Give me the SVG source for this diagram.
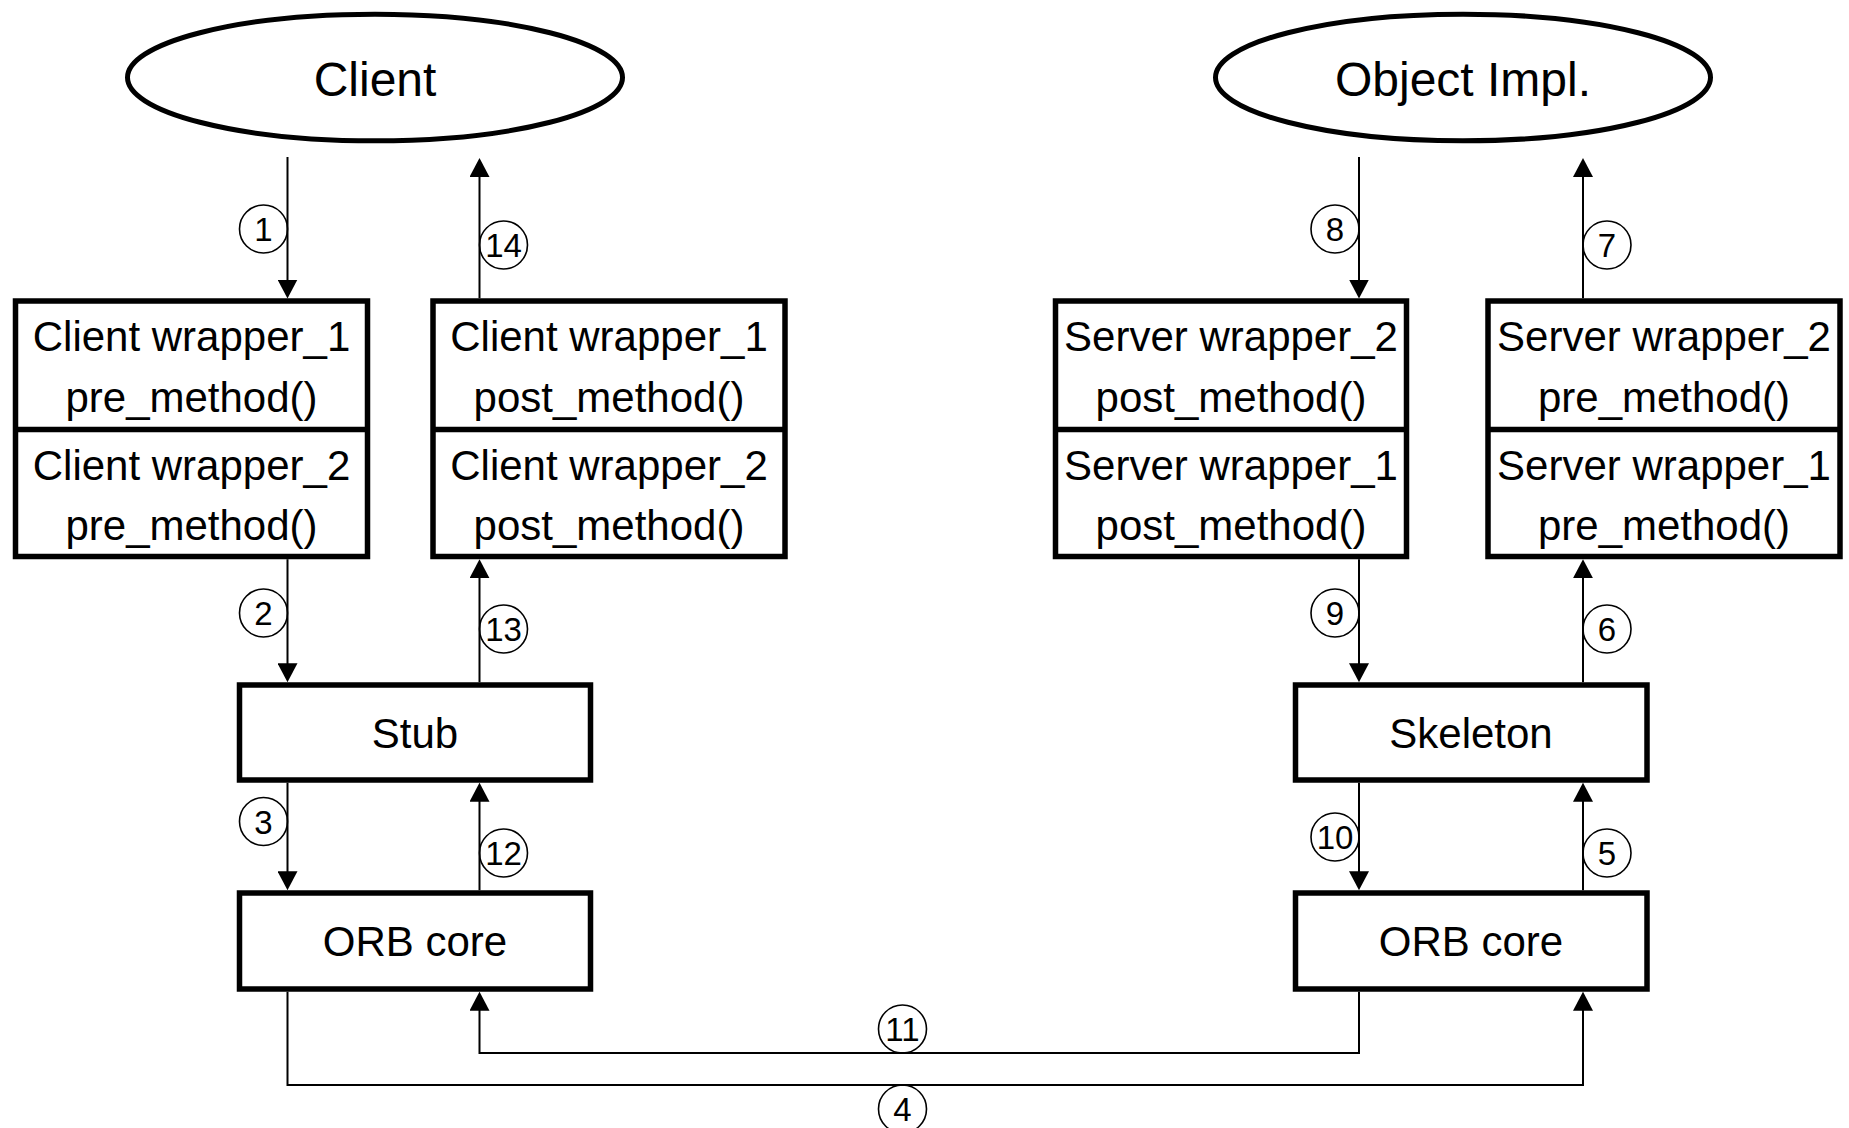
<svg xmlns="http://www.w3.org/2000/svg" width="1849" height="1128" viewBox="0 0 1849 1128">
  <style>
    .node { fill: #ffffff; stroke: #000000; stroke-width: 5.5; }
    .oval { fill: #ffffff; stroke: #000000; stroke-width: 5; }
    .div { stroke: #000000; stroke-width: 5.5; }
    .lbl { font-family: "Liberation Sans", Arial, Helvetica, sans-serif; font-size: 42px; text-anchor: middle; fill: #000000; }
    .big { font-family: "Liberation Sans", Arial, Helvetica, sans-serif; font-size: 48px; text-anchor: middle; fill: #000000; }
    .wire { fill: none; stroke: #000000; stroke-width: 2; }
    .tag circle { fill: none; stroke: #000000; stroke-width: 1.6; }
    .tag text { font-family: "Liberation Sans", Arial, Helvetica, sans-serif; font-size: 33px; text-anchor: middle; fill: #000000; }
  </style>
  <defs>
    <marker id="head" viewBox="0 0 19 20" refX="9" refY="10" markerWidth="19" markerHeight="20" markerUnits="userSpaceOnUse" orient="auto">
      <path d="M0,0 L19,10 L0,20 Z" fill="#000000"/>
    </marker>
  </defs>

  <rect width="1849" height="1128" fill="#ffffff"/>

  <!-- top-level actors -->
  <g id="client">
    <ellipse class="oval" cx="375" cy="77.5" rx="247.5" ry="63.3"/>
    <text class="big" x="375" y="96">Client</text>
  </g>
  <g id="object-impl">
    <ellipse class="oval" cx="1463" cy="77.5" rx="247.5" ry="63.3"/>
    <text class="big" x="1463" y="96">Object Impl.</text>
  </g>

  <!-- client-side wrapper stacks -->
  <g id="client-pre">
    <rect class="node" x="15.5" y="301" width="352" height="255.5"/>
    <line class="div" x1="15.5" y1="429.5" x2="367.5" y2="429.5"/>
    <text class="lbl" x="191.5" y="351">Client wrapper_1</text>
    <text class="lbl" x="191.5" y="412">pre_method()</text>
    <text class="lbl" x="191.5" y="479.5">Client wrapper_2</text>
    <text class="lbl" x="191.5" y="540">pre_method()</text>
  </g>
  <g id="client-post">
    <rect class="node" x="433" y="301" width="352" height="255.5"/>
    <line class="div" x1="433" y1="429.5" x2="785" y2="429.5"/>
    <text class="lbl" x="609" y="351">Client wrapper_1</text>
    <text class="lbl" x="609" y="412">post_method()</text>
    <text class="lbl" x="609" y="479.5">Client wrapper_2</text>
    <text class="lbl" x="609" y="540">post_method()</text>
  </g>

  <!-- server-side wrapper stacks -->
  <g id="server-post">
    <rect class="node" x="1055.5" y="301" width="351" height="255.5"/>
    <line class="div" x1="1055.5" y1="429.5" x2="1406.5" y2="429.5"/>
    <text class="lbl" x="1231" y="351">Server wrapper_2</text>
    <text class="lbl" x="1231" y="412">post_method()</text>
    <text class="lbl" x="1231" y="479.5">Server wrapper_1</text>
    <text class="lbl" x="1231" y="540">post_method()</text>
  </g>
  <g id="server-pre">
    <rect class="node" x="1488" y="301" width="352" height="255.5"/>
    <line class="div" x1="1488" y1="429.5" x2="1840" y2="429.5"/>
    <text class="lbl" x="1664" y="351">Server wrapper_2</text>
    <text class="lbl" x="1664" y="412">pre_method()</text>
    <text class="lbl" x="1664" y="479.5">Server wrapper_1</text>
    <text class="lbl" x="1664" y="540">pre_method()</text>
  </g>

  <!-- stub / skeleton and ORB cores -->
  <g id="stub">
    <rect class="node" x="239.5" y="685" width="351" height="95"/>
    <text class="lbl" x="415" y="748">Stub</text>
  </g>
  <g id="orb-client">
    <rect class="node" x="239.5" y="893" width="351" height="96"/>
    <text class="lbl" x="415" y="956">ORB core</text>
  </g>
  <g id="skeleton">
    <rect class="node" x="1295.5" y="685" width="351.5" height="95"/>
    <text class="lbl" x="1471" y="748">Skeleton</text>
  </g>
  <g id="orb-server">
    <rect class="node" x="1295.5" y="893" width="351.5" height="96"/>
    <text class="lbl" x="1471" y="956">ORB core</text>
  </g>

  <!-- call path connectors -->
  <g id="connectors">
    <path class="wire" marker-end="url(#head)" d="M287.5,157 V288.5"/>
    <path class="wire" marker-end="url(#head)" d="M479.5,298.2 V168"/>
    <path class="wire" marker-end="url(#head)" d="M287.5,559.2 V672.2"/>
    <path class="wire" marker-end="url(#head)" d="M479.5,682.2 V569.2"/>
    <path class="wire" marker-end="url(#head)" d="M287.5,782.7 V880.2"/>
    <path class="wire" marker-end="url(#head)" d="M479.5,890.2 V792.7"/>
    <path class="wire" marker-end="url(#head)" d="M287.5,991.7 V1085 H1583 V1001.7"/>
    <path class="wire" marker-end="url(#head)" d="M1359,991.7 V1053 H479.5 V1001.7"/>
    <path class="wire" marker-end="url(#head)" d="M1583,890.2 V792.7"/>
    <path class="wire" marker-end="url(#head)" d="M1359,782.7 V880.2"/>
    <path class="wire" marker-end="url(#head)" d="M1583,682.2 V569.2"/>
    <path class="wire" marker-end="url(#head)" d="M1359,559.2 V672.2"/>
    <path class="wire" marker-end="url(#head)" d="M1583,298.2 V168"/>
    <path class="wire" marker-end="url(#head)" d="M1359,157 V288.5"/>
  </g>

  <!-- step numbers -->
  <g id="steps" class="tag">
    <circle cx="263.5" cy="229" r="24"/><text x="263.5" y="241">1</text>
    <circle cx="263.5" cy="613" r="24"/><text x="263.5" y="625">2</text>
    <circle cx="263.5" cy="821.5" r="24"/><text x="263.5" y="833.5">3</text>
    <circle cx="902.5" cy="1109" r="24"/><text x="902.5" y="1121">4</text>
    <circle cx="1607" cy="853" r="24"/><text x="1607" y="865">5</text>
    <circle cx="1607" cy="629" r="24"/><text x="1607" y="641">6</text>
    <circle cx="1607" cy="245" r="24"/><text x="1607" y="257">7</text>
    <circle cx="1335" cy="229" r="24"/><text x="1335" y="241">8</text>
    <circle cx="1335" cy="613" r="24"/><text x="1335" y="625">9</text>
    <circle cx="1335" cy="837" r="24"/><text x="1335" y="849">10</text>
    <circle cx="902.5" cy="1029" r="24"/><text x="902.5" y="1041">11</text>
    <circle cx="503.5" cy="853" r="24"/><text x="503.5" y="865">12</text>
    <circle cx="503.5" cy="629" r="24"/><text x="503.5" y="641">13</text>
    <circle cx="503.5" cy="245" r="24"/><text x="503.5" y="257">14</text>
  </g>
</svg>
